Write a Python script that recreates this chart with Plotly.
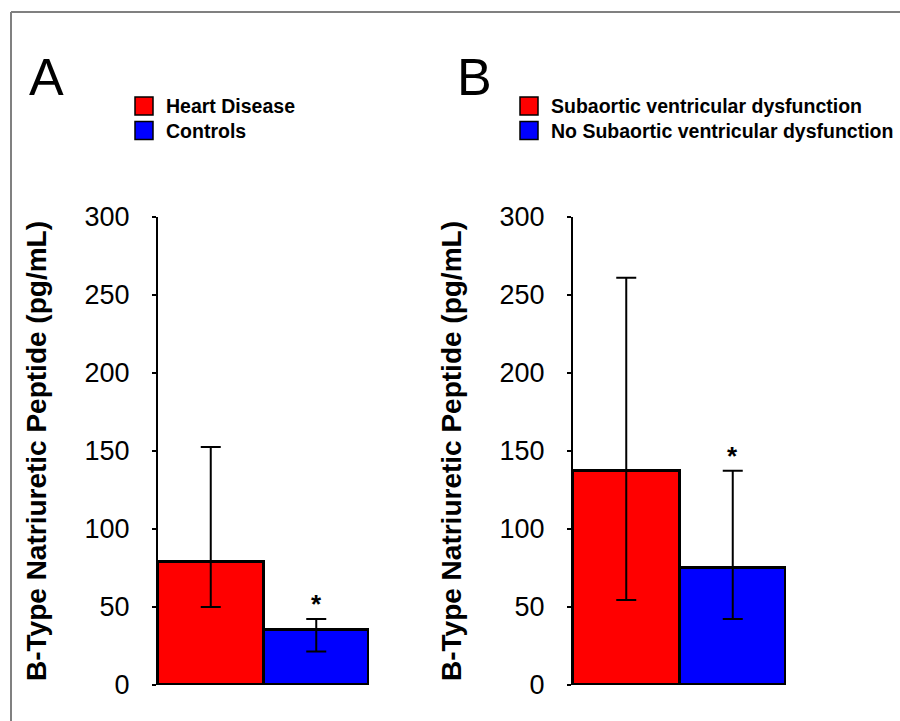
import plotly.graph_objects as go

# ---- data ----
panel_letters = ["A", "B"]
groups_A = ["Heart Disease", "Controls"]
groups_B = ["Subaortic ventricular dysfunction", "No Subaortic ventricular dysfunction"]
bnp_A = [79, 35]
err_high_A = [152.5, 42.3]
err_low_A = [50, 21.4]
bnp_B = [137, 75]
err_high_B = [261, 137.4]
err_low_B = [54.5, 42.3]
significant = [False, True]
y_ticks = [0, 50, 100, 150, 200, 250, 300]
y_title = "B-Type Natriuretic Peptide (pg/mL)"
colors = ["#ff0000", "#0000ff"]

FONT = "Liberation Sans, Arial, Helvetica, sans-serif"
W, H = 900, 721


def px_x(p):
    return p / W


def px_y(p):
    return (H - p) / H


fig = go.Figure()

panels = [
    ("x", "y", groups_A, bnp_A, err_high_A, err_low_A),
    ("x2", "y2", groups_B, bnp_B, err_high_B, err_low_B),
]
for xa, ya, groups, vals, hi, lo in panels:
    for i, (g, v) in enumerate(zip(groups, vals)):
        fig.add_trace(go.Bar(
            x=[i], y=[v], name=g, xaxis=xa, yaxis=ya, showlegend=False,
            width=1,
            marker=dict(color=colors[i], line=dict(color="black", width=3)),
            error_y=dict(type="data", symmetric=False,
                         array=[hi[i] - v], arrayminus=[v - lo[i]],
                         color="black", thickness=2, width=10),
        ))
        if significant[i]:
            fig.add_annotation(x=i, y=hi[i], xref=xa, yref=ya, text="<b>*</b>",
                               showarrow=False, yanchor="bottom", yshift=-2,
                               font=dict(size=26, color="black", family=FONT))

ydom = [px_y(685), px_y(217)]
axis_common_y = dict(
    range=[0, 300], tickvals=y_ticks, showline=True, linecolor="black", linewidth=2,
    ticks="outside", ticklen=4, tickwidth=1.5, tickcolor="black", showgrid=False,
    zeroline=False, tickfont=dict(size=27, color="black", family=FONT),
    ticklabelstandoff=17, automargin=False,
    title=dict(text="<b>" + y_title + "</b>", font=dict(size=28, color="black", family=FONT),
               standoff=30),
    domain=ydom,
)
axis_common_x = dict(range=[-0.5, 1.5], showticklabels=False, showline=False,
                     showgrid=False, zeroline=False, ticks="", automargin=False)

fig.update_layout(
    width=W, height=H, margin=dict(l=0, r=0, t=0, b=0, autoexpand=False),
    paper_bgcolor="white", plot_bgcolor="white", bargap=0, barmode="overlay",
    font=dict(family=FONT, color="black"),
    xaxis=dict(domain=[px_x(158), px_x(369)], anchor="y", **axis_common_x),
    yaxis=dict(anchor="x", **axis_common_y),
    xaxis2=dict(domain=[px_x(573), px_x(786)], anchor="y2", **axis_common_x),
    yaxis2=dict(anchor="x2", **axis_common_y),
    showlegend=False,
)

# legends (swatch + label), one per panel
legend_specs = [(groups_A, 135), (groups_B, 520)]
for groups, sx in legend_specs:
    for i, g in enumerate(groups):
        top = 97 + 24.5 * i
        fig.add_shape(type="rect", xref="paper", yref="paper",
                      x0=px_x(sx), x1=px_x(sx + 18), y0=px_y(top + 18), y1=px_y(top),
                      fillcolor=colors[i], line=dict(color="black", width=1.5))
        fig.add_annotation(x=px_x(sx + 29), y=px_y(top + 9), xref="paper", yref="paper",
                           text="<b>" + g + "</b>", showarrow=False,
                           xanchor="left", yanchor="middle",
                           font=dict(size=19.5, color="black", family=FONT))

# panel letters
for letter, xp in zip(panel_letters, [27, 455]):
    fig.add_annotation(x=px_x(xp), y=px_y(46), xref="paper", yref="paper", text=letter,
                       showarrow=False, xanchor="left", yanchor="top",
                       font=dict(size=52, color="black", family=FONT))

# outer frame (left and top edges visible; right/bottom fall outside the picture)
fig.add_shape(type="line", xref="paper", yref="paper",
              x0=px_x(11), y0=-0.2, x1=px_x(11), y1=px_y(12),
              line=dict(color="#808080", width=2))
fig.add_shape(type="line", xref="paper", yref="paper",
              x0=px_x(11), y0=px_y(12), x1=1.2, y1=px_y(12),
              line=dict(color="#808080", width=2))

fig.write_html("out.html", config={"displayModeBar": False},
               post_script="document.body.style.margin='0px';")
